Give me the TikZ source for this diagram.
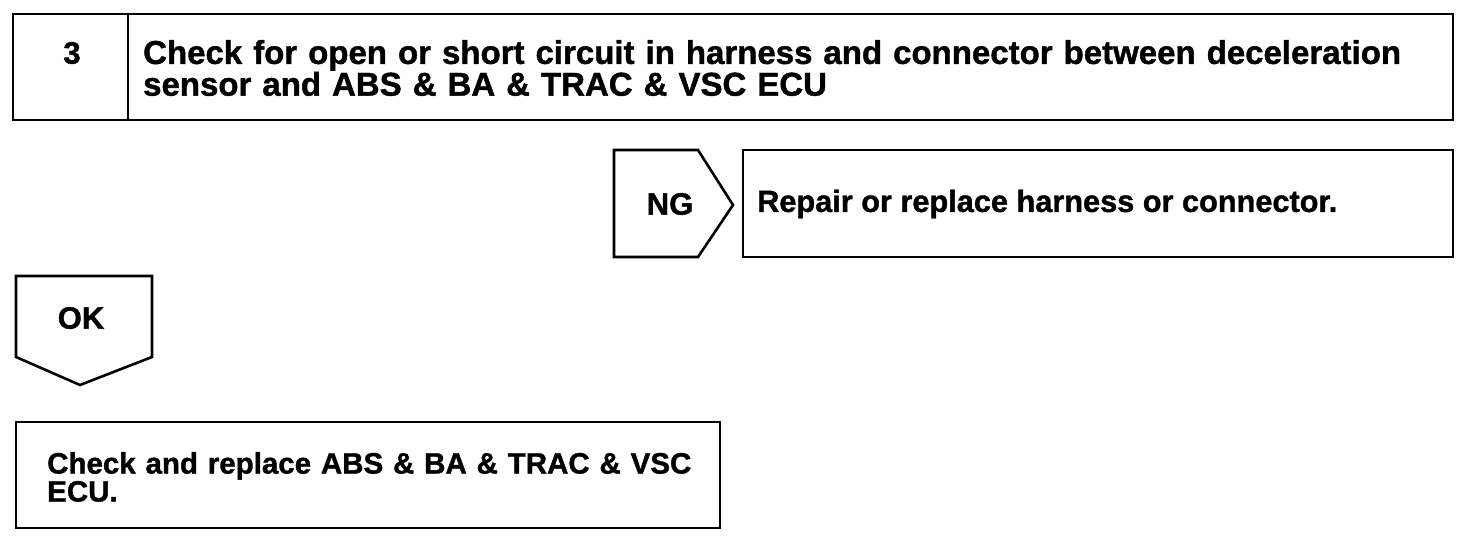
\documentclass[tikz,border=0pt]{standalone}
\usepackage{fontspec}
\setmainfont{Liberation Sans}[BoldFeatures={FakeBold=1.2}]
\begin{document}
\begin{tikzpicture}[x=1pt,y=-1pt,
  frame/.style={draw=black,line width=2.6pt,line join=miter},
  boxtxt/.style={align=left,anchor=west,inner sep=0pt},
  lbl/.style={font=\bfseries\fontsize{31}{27}\selectfont,inner sep=0pt}]
\useasboundingbox[fill=white] (0,0) rectangle (1472,548);
% top step box
\draw[frame] (13,14) rectangle (1453,120);
\draw[frame] (128,14) -- (128,120);
\node[lbl] (num) at (72,53) {3};
\node[boxtxt,text width=1300pt,font=\bfseries\fontsize{33}{28}\selectfont] (step) at (143,68) {Check for open or short circuit in harness and connector between deceleration\\sensor and ABS \& BA \& TRAC \& VSC ECU};
% NG
\draw[frame] (614,150) -- (698,150) -- (733,205) -- (698,257) -- (614,257) -- cycle;
\node[lbl] (ng) at (670,204) {NG};
\draw[frame] (743,150) rectangle (1453,257);
\node[boxtxt,font=\bfseries\fontsize{30.7}{27}\selectfont] (repair) at (757,204) {Repair or replace harness or connector.};
% OK
\draw[frame] (16,276) -- (152,276) -- (152,357) -- (80,385) -- (16,357) -- cycle;
\node[lbl] (ok) at (81,318) {OK};
% final box
\draw[frame] (16,422) rectangle (720,528);
\node[boxtxt,text width=660pt,font=\bfseries\fontsize{29.5}{28}\selectfont] (final) at (47,477) {Check and replace ABS \& BA \& TRAC \& VSC\\ECU.};
\end{tikzpicture}
\end{document}
